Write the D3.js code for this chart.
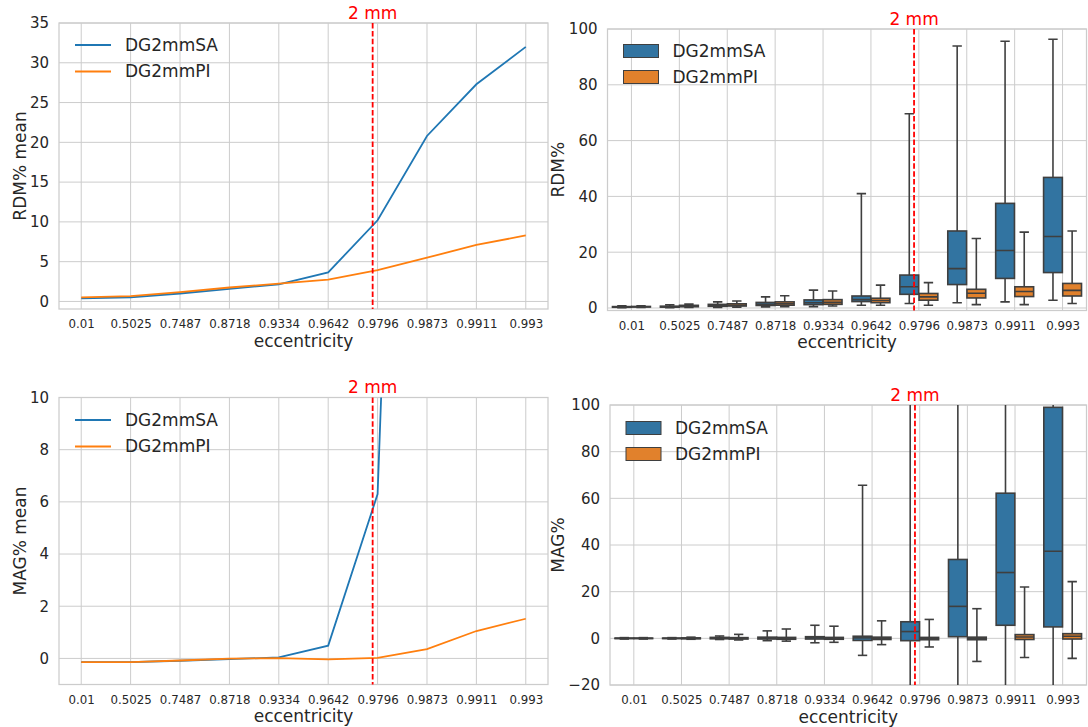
<!DOCTYPE html>
<html>
<head>
<meta charset="utf-8">
<script src="https://cdn.jsdelivr.net/npm/d3@7"></script>
<style>
  body { margin: 0; background: #fff; }
  text { font-family: "DejaVu Sans", sans-serif; fill: #262626; }
</style>
</head>
<body>
<div id="chart"></div>
<script>
// ---- data ----
const eccentricity = ["0.01", "0.5025", "0.7487", "0.8718", "0.9334", "0.9642", "0.9796", "0.9873", "0.9911", "0.993"];
const seriesNames = ["DG2mmSA", "DG2mmPI"];
const twoMmIndex = 5.9; // where the 2 mm marker sits on the category axis

const rdmMeanSA = [0.38, 0.52, 1.0, 1.58, 2.15, 3.65, 10.2, 20.8, 27.3, 32.0];
const rdmMeanPI = [0.5, 0.66, 1.17, 1.75, 2.25, 2.75, 3.95, 5.5, 7.1, 8.3];
const magMeanSA = [-0.14, -0.14, -0.09, -0.03, 0.04, 0.49, 6.3, 58, 85, 110];
const magMeanPI = [-0.14, -0.14, -0.08, -0.01, 0.01, -0.04, 0.02, 0.36, 1.05, 1.52];

// box stats: [lower whisker, q1, median, q3, upper whisker]
const rdmBoxSA = [
  [0.1, 0.25, 0.35, 0.5, 0.8], [0.1, 0.3, 0.45, 0.65, 1.1], [0.2, 0.6, 0.9, 1.3, 2.2],
  [0.4, 0.9, 1.3, 2.0, 4.0], [0.5, 1.2, 1.9, 2.9, 6.4], [1.0, 2.3, 3.0, 4.3, 41.0],
  [1.6, 4.9, 7.6, 11.8, 69.6], [1.9, 8.4, 14.1, 27.6, 93.9], [2.2, 10.6, 20.6, 37.5, 95.6],
  [2.8, 12.7, 25.6, 46.8, 96.3]
];
const rdmBoxPI = [
  [0.2, 0.35, 0.45, 0.55, 0.8], [0.2, 0.45, 0.65, 0.95, 1.4], [0.3, 0.7, 1.0, 1.5, 2.5],
  [0.5, 1.0, 1.5, 2.2, 4.4], [0.7, 1.3, 2.0, 3.0, 6.1], [1.0, 1.9, 2.7, 3.5, 8.2],
  [1.0, 2.8, 4.0, 5.2, 9.1], [1.2, 3.6, 5.3, 6.7, 24.9], [1.2, 4.1, 5.9, 7.6, 27.2],
  [1.6, 4.3, 6.3, 8.8, 27.6]
];
const magBoxSA = [
  [-0.3, -0.1, 0, 0.1, 0.3], [-0.3, -0.1, 0, 0.1, 0.3], [-0.5, -0.2, 0.1, 0.4, 1.0],
  [-1.0, -0.3, 0.1, 0.5, 3.2], [-1.9, -0.3, 0.2, 0.7, 5.6], [-7.3, -0.9, 0.2, 0.9, 65.6],
  [-60, -1.0, 2.9, 7.1, 160], [-70, 0.7, 13.7, 33.8, 180], [-90, 5.6, 28.2, 62.2, 200],
  [-140, 4.9, 37.3, 99.0, 250]
];
const magBoxPI = [
  [-0.3, -0.1, 0, 0.1, 0.3], [-0.4, -0.2, 0, 0.2, 0.5], [-0.7, -0.3, 0, 0.3, 1.7],
  [-1.2, -0.4, 0, 0.4, 4.0], [-1.7, -0.4, 0, 0.4, 5.2], [-2.7, -0.5, 0, 0.5, 7.5],
  [-3.7, -0.6, -0.1, 0.4, 8.1], [-9.9, -0.6, 0, 0.5, 12.7], [-8.2, -0.5, 0.6, 1.6, 22.0],
  [-8.6, -0.3, 0.9, 2.0, 24.3]
];

// ---- styling constants ----
const width = 1088, height = 727;
const lineColors = ["#1f77b4", "#ff7f0e"];
const boxColors = ["#3274a1", "#e1812c"];
const boxEdge = "#3f3f3f";
const gridColor = "#cccccc";

const svg = d3.select("#chart")
  .append("svg")
    .attr("width", width)
    .attr("height", height);

// Shared pieces of a panel: frame, grid, axes, labels, 2 mm marker
function drawFrame(p) {
  const g = svg.append("g");
  const x = d3.scaleLinear().domain(p.xDomain).range([p.left, p.right]);
  const y = d3.scaleLinear().domain(p.yDomain).range([p.bottom, p.top]);

  // grid
  g.append("g").selectAll("line.h").data(p.yTicks).join("line")
    .attr("x1", p.left).attr("x2", p.right)
    .attr("y1", d => y(d)).attr("y2", d => y(d))
    .attr("stroke", gridColor).attr("stroke-width", 1);
  g.append("g").selectAll("line.v").data(d3.range(eccentricity.length)).join("line")
    .attr("x1", d => x(d)).attr("x2", d => x(d))
    .attr("y1", p.top).attr("y2", p.bottom)
    .attr("stroke", gridColor).attr("stroke-width", 1);

  // frame
  g.append("rect")
    .attr("x", p.left).attr("y", p.top)
    .attr("width", p.right - p.left).attr("height", p.bottom - p.top)
    .attr("fill", "none").attr("stroke", gridColor).attr("stroke-width", 1.25);

  // axes
  const xAxis = g.append("g")
    .attr("transform", `translate(0, ${p.bottom})`)
    .call(d3.axisBottom(x).tickValues(d3.range(eccentricity.length))
      .tickFormat(i => eccentricity[i]).tickSize(0).tickPadding(11));
  xAxis.select(".domain").remove();
  xAxis.selectAll("text").style("font-size", "11.8px").attr("fill", "#262626");

  const yAxis = g.append("g")
    .attr("transform", `translate(${p.left}, 0)`)
    .call(d3.axisLeft(y).tickValues(p.yTicks).tickSize(0).tickPadding(10));
  yAxis.select(".domain").remove();
  yAxis.selectAll("text").style("font-size", "15px").attr("fill", "#262626");

  // axis labels
  g.append("text")
    .text("eccentricity")
    .attr("x", (p.left + p.right) / 2)
    .attr("y", p.bottom + 32)
    .attr("dy", "0.35em")
    .attr("text-anchor", "middle")
    .style("font-size", "17px");
  g.append("text")
    .text(p.yLabel)
    .attr("transform", `translate(${p.yLabelX}, ${(p.top + p.bottom) / 2}) rotate(-90)`)
    .attr("dy", "0.35em")
    .attr("text-anchor", "middle")
    .style("font-size", "17px");

  // clip for marks
  const clipId = "clip-" + p.id;
  svg.append("clipPath").attr("id", clipId)
    .append("rect")
      .attr("x", p.left).attr("y", p.top)
      .attr("width", p.right - p.left).attr("height", p.bottom - p.top);
  const marks = g.append("g").attr("clip-path", `url(#${clipId})`);

  return {g, x, y, marks};
}

function drawMarker(p, g, x) {
  g.append("line")
    .attr("x1", x(twoMmIndex)).attr("x2", x(twoMmIndex))
    .attr("y1", p.top).attr("y2", p.bottom)
    .attr("stroke", "#ff0000")
    .attr("stroke-width", 1.8)
    .attr("stroke-dasharray", "5.5,2.4");
  g.append("text")
    .text("2 mm")
    .attr("x", x(twoMmIndex))
    .attr("y", p.top - 10)
    .attr("dy", "0.35em")
    .attr("text-anchor", "middle")
    .style("font-size", "17px")
    .style("fill", "#ff0000");
}

function drawLinePanel(p, series) {
  const {g, x, y, marks} = drawFrame(p);
  const line = d3.line().x((d, i) => x(i)).y(d => y(d));
  series.forEach((s, k) => {
    marks.append("path")
      .datum(s)
      .attr("d", line)
      .attr("fill", "none")
      .attr("stroke", lineColors[k])
      .attr("stroke-width", 1.8);
  });
  drawMarker(p, g, x);

  // legend
  seriesNames.forEach((name, k) => {
    const ly = p.top + p.legendDy + k * 26.5;
    g.append("line")
      .attr("x1", p.left + 16).attr("x2", p.left + 52)
      .attr("y1", ly).attr("y2", ly)
      .attr("stroke", lineColors[k]).attr("stroke-width", 1.8);
    g.append("text")
      .text(name)
      .attr("x", p.left + 66).attr("y", ly)
      .attr("dy", "0.35em")
      .style("font-size", "17px");
  });
}

function drawBoxPanel(p, series) {
  const {g, x, y, marks} = drawFrame(p);
  const bw = x(0.392) - x(0);
  series.forEach((s, k) => {
    const off = k === 0 ? -0.2 : 0.2;
    const boxes = marks.append("g").selectAll("g").data(s).join("g");
    boxes.each(function(d, i) {
      const cx = x(i + off);
      const b = d3.select(this);
      const [lo, q1, med, q3, hi] = d;
      b.append("line").attr("x1", cx).attr("x2", cx).attr("y1", y(lo)).attr("y2", y(q1));
      b.append("line").attr("x1", cx).attr("x2", cx).attr("y1", y(q3)).attr("y2", y(hi));
      b.append("line").attr("x1", cx - bw / 4).attr("x2", cx + bw / 4).attr("y1", y(lo)).attr("y2", y(lo));
      b.append("line").attr("x1", cx - bw / 4).attr("x2", cx + bw / 4).attr("y1", y(hi)).attr("y2", y(hi));
      b.append("rect")
        .attr("x", cx - bw / 2).attr("width", bw)
        .attr("y", y(q3)).attr("height", Math.max(0, y(q1) - y(q3)))
        .attr("fill", boxColors[k]);
      b.append("line").attr("x1", cx - bw / 2).attr("x2", cx + bw / 2).attr("y1", y(med)).attr("y2", y(med));
      b.selectAll("line, rect").attr("stroke", boxEdge).attr("stroke-width", 1.6);
    });
  });
  drawMarker(p, g, x);

  // legend
  seriesNames.forEach((name, k) => {
    const ly = p.top + p.legendDy + k * 26;
    g.append("rect")
      .attr("x", p.left + 16).attr("y", ly - 6.5)
      .attr("width", 35).attr("height", 13)
      .attr("fill", boxColors[k]).attr("stroke", boxEdge).attr("stroke-width", 1);
    g.append("text")
      .text(name)
      .attr("x", p.left + 65).attr("y", ly)
      .attr("dy", "0.35em")
      .style("font-size", "17px");
  });
}

drawLinePanel({
  id: "rdm-mean", left: 59, right: 548, top: 23, bottom: 309,
  xDomain: [-0.45, 9.45], yDomain: [-0.95, 35], yTicks: d3.range(0, 36, 5),
  yLabel: "RDM% mean", yLabelX: 20, legendDy: 22
}, [rdmMeanSA, rdmMeanPI]);

drawBoxPanel({
  id: "rdm-box", left: 607.5, right: 1086.5, top: 29, bottom: 310.5,
  xDomain: [-0.5, 9.5], yDomain: [-0.9, 100], yTicks: d3.range(0, 101, 20),
  yLabel: "RDM%", yLabelX: 558, legendDy: 22
}, [rdmBoxSA, rdmBoxPI]);

drawLinePanel({
  id: "mag-mean", left: 59, right: 548, top: 397.5, bottom: 684.5,
  xDomain: [-0.45, 9.45], yDomain: [-1, 10], yTicks: d3.range(0, 11, 2),
  yLabel: "MAG% mean", yLabelX: 20, legendDy: 22.5
}, [magMeanSA, magMeanPI]);

drawBoxPanel({
  id: "mag-box", left: 610, right: 1086.5, top: 405, bottom: 685,
  xDomain: [-0.5, 9.5], yDomain: [-20, 100], yTicks: d3.range(-20, 101, 20),
  yLabel: "MAG%", yLabelX: 558, legendDy: 23
}, [magBoxSA, magBoxPI]);
</script>
</body>
</html>
